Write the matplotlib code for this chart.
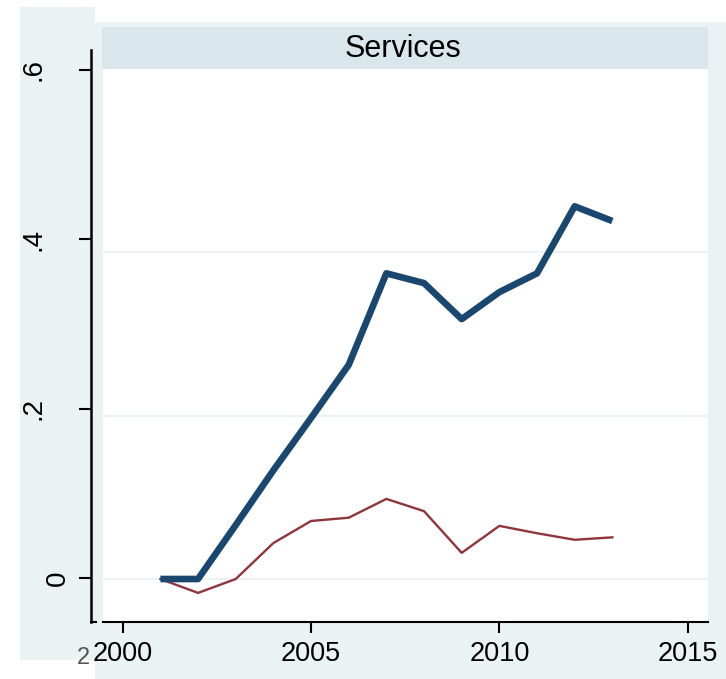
import matplotlib
matplotlib.use("Agg")
import matplotlib.pyplot as plt
from matplotlib.patches import Rectangle
from matplotlib.transforms import blended_transform_factory

plt.rcParams['font.family'] = ['Liberation Sans', 'DejaVu Sans']

# data
years = [2001, 2002, 2003, 2004, 2005, 2006, 2007, 2008, 2009, 2010, 2011, 2012, 2013]
series_blue = [0.0, 0.0, 0.066, 0.133, 0.197, 0.262, 0.374, 0.362, 0.318, 0.351, 0.374, 0.456, 0.438]
series_red = [0.0, -0.017, 0.0, 0.044, 0.071, 0.075, 0.098, 0.083, 0.032, 0.065, 0.056, 0.048, 0.051]
x_ticks = [2000, 2005, 2010, 2015]
y_ticks = [0, 0.2, 0.4, 0.6]
y_labels = ["0", ".2", ".4", ".6"]
panel_title = "Services"

W, H = 726, 679
bg = "#EAF2F3"
strip = "#D9E6EB"
navy = "#1A476F"
maroon = "#90353B"


def box(x0, y0, x1, y1):
    return [x0 / W, 1 - y1 / H, (x1 - x0) / W, (y1 - y0) / H]


def rect(x0, y0, x1, y1, color):
    fig.add_artist(Rectangle((x0 / W, 1 - y1 / H), (x1 - x0) / W, (y1 - y0) / H,
                             transform=fig.transFigure, facecolor=color,
                             edgecolor="none", zorder=0))


fig = plt.figure(figsize=(W / 100, H / 100), dpi=100, facecolor="white")

# background pieces
rect(20, 7, 95, 660, bg)
rect(95, 22, 726, 679, bg)
rect(102, 27, 708, 69, strip)
fig.text(403 / W, 1 - 57 / H, panel_title, ha="center", va="baseline", fontsize=22)

# main plot region
ax = fig.add_axes(box(103, 69, 708, 622))
ax.set_facecolor("white")
ax.set_xlim(1999.476, 2015.54)
ax.set_ylim(-0.0526, 0.624)
for v in y_ticks[:3]:
    ax.axhline(v, color=bg, lw=1.6, zorder=1)
ax.plot(years, series_red, color=maroon, lw=1.7, zorder=3, solid_joinstyle="round")
ax.plot(years, series_blue, color=navy, lw=4.8, zorder=4, solid_joinstyle="round",
        solid_capstyle="butt")
for s in ["top", "right", "left"]:
    ax.spines[s].set_visible(False)
ax.spines["bottom"].set_linewidth(1.5)
ax.set_xticks(x_ticks)
ax.set_xticklabels([str(t) for t in x_ticks])
ax.tick_params(axis="x", direction="out", length=8, width=1.5, pad=6, labelsize=19.5)
ax.set_yticks([])

# left axis piece (slightly different scale in the picture)
ax2 = fig.add_axes(box(91, 50, 96, 622))
ax2.patch.set_visible(False)
ax2.set_ylim(-0.052, 0.6236)
ax2.set_xlim(0, 1)
for s in ["top", "right"]:
    ax2.spines[s].set_visible(False)
ax2.spines["left"].set_linewidth(1.8)
ax2.spines["bottom"].set_linewidth(1.5)
ax2.set_xticks([])
ax2.set_yticks(y_ticks)
ax2.set_yticklabels([])
ax2.tick_params(axis="y", direction="out", length=8.6, width=1.5)
tr = blended_transform_factory(fig.transFigure, ax2.transData)
label_x = [58, 33.5, 33.5, 33.5]
for v, lab, lx in zip(y_ticks, y_labels, label_x):
    ax2.text(lx / W, v, lab, transform=tr, rotation=90, ha="center", va="center",
             fontsize=20)

# stray clipped digit left of the first year label
fig.text(90 / W, 1 - 664 / H, "2", ha="right", va="baseline", fontsize=17, color="#555555")

fig.savefig("out.png", dpi=100, facecolor="white")
